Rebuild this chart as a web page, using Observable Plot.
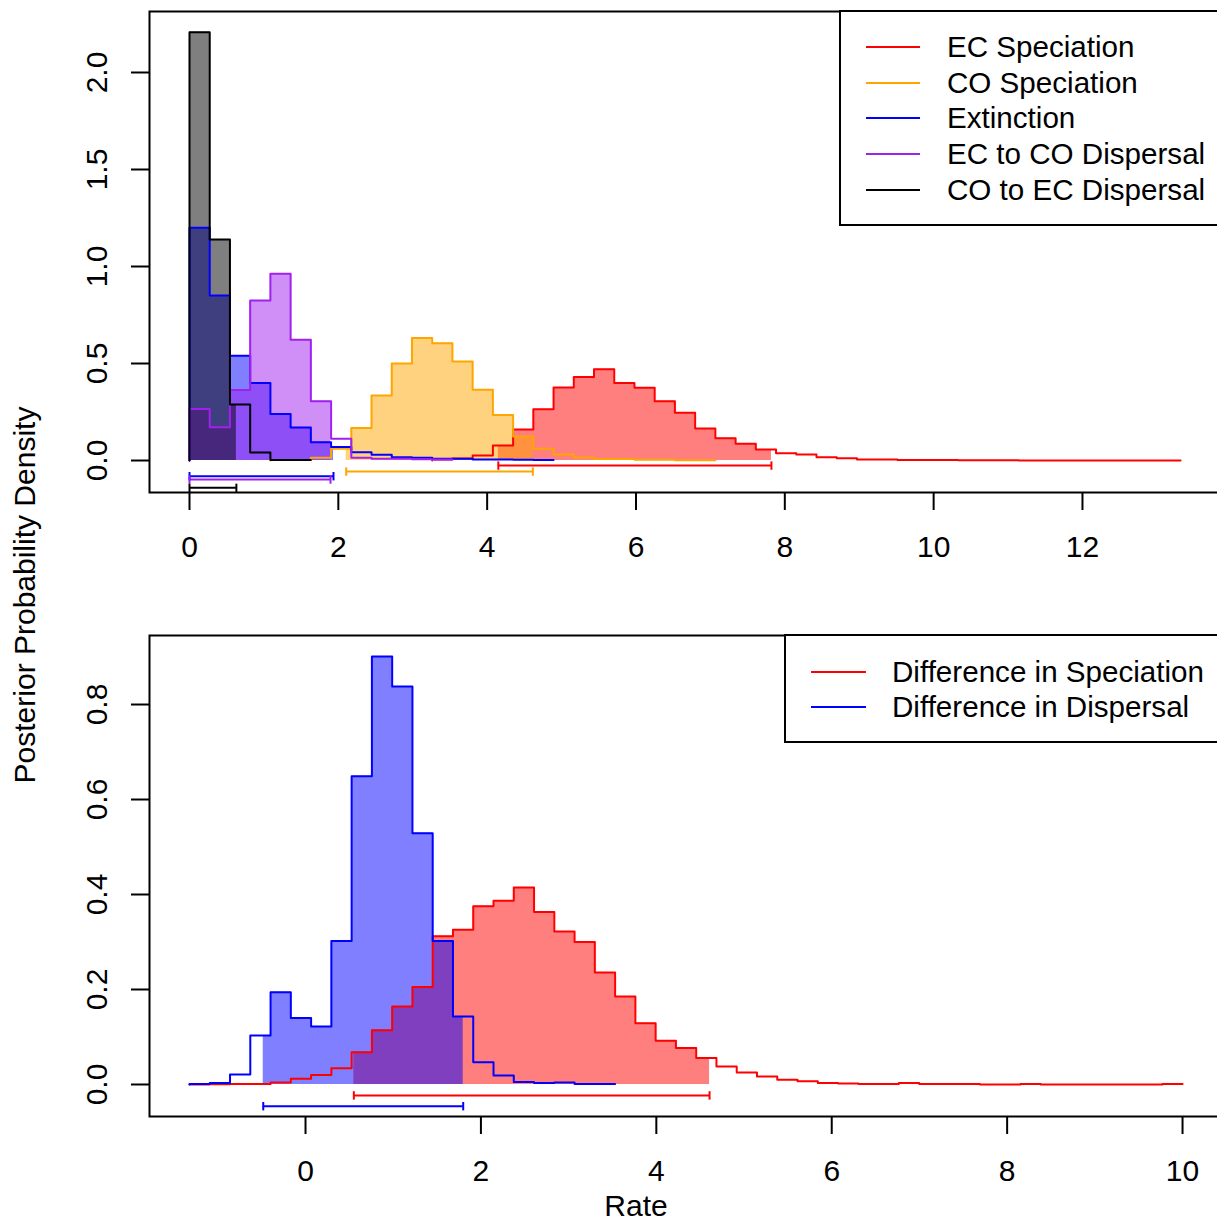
<!DOCTYPE html>
<html><head><meta charset="utf-8">
<script src="https://cdn.jsdelivr.net/npm/d3@7"></script>
<script src="https://cdn.jsdelivr.net/npm/@observablehq/plot@0.6"></script>
<style>
html,body{margin:0;padding:0;background:#fff;}
body{width:1217px;height:1222px;overflow:hidden;position:relative;font-family:"Liberation Sans",Arial,Helvetica,sans-serif;color:#000;}
.panel{position:absolute;left:0;width:1260px;}
.legend{position:absolute;background:#fff;border:2px solid #000;box-sizing:border-box;}
.swatch{position:absolute;height:2px;margin-top:-1px;}
.lab{position:absolute;font-size:29.6px;line-height:32px;white-space:nowrap;transform:translateY(-50%);}
.ylab{position:absolute;font-size:30px;white-space:nowrap;transform:translate(-50%,-50%) rotate(-90deg);}
.xlab{position:absolute;font-size:30px;white-space:nowrap;transform:translate(-50%,-50%);}
</style></head>
<body>
<div id="top" class="panel" style="top:0px"></div>
<div id="bottom" class="panel" style="top:600px"></div>
<script>
// ---------------- DATA ----------------
// Top panel: posterior histograms (common breaks starting at 0); null = empty bin not drawn
const topBinStart = 0;
const topBinWidth = 0.2718;
const topNames = ["EC Speciation", "CO Speciation", "Extinction", "EC to CO Dispersal", "CO to EC Dispersal"];
const topColors = ["#FF0000", "#FFA500", "#0000FF", "#A020F0", "#000000"];
const ecSpeciation = [null,null,null,null,null,null,null,null,null,null,null,null,
  0.005,0.01,0.026,0.077,0.16,0.264,0.376,0.43,0.47,0.40,0.375,0.306,0.246,0.165,0.115,0.086,0.057,
  0.037,0.031,0.017,0.012,0.005,0.005,0.003,0.003,0.003,0.001,0.001,0.001,
  0.0005,0.0005,0.0005,0.0005,0.0005,0.0005,0.0005,0.0005];
const coSpeciation = [null,null,null,null,0.003,0.003,0.014,0.06,0.167,0.335,0.50,0.632,0.605,
  0.51,0.365,0.235,0.124,0.06,0.031,0.015,0.008,0.008,0.004,0.004,0.001,0.001];
const extinction = [1.20,0.85,0.54,0.40,0.24,0.17,0.094,0.069,0.043,0.03,0.017,0.014,0.009,0.009,
  0.005,0.005,0.004,0.003];
const ecToCoDispersal = [0.266,0.172,0.364,0.825,0.962,0.622,0.306,0.112,0.014,0.009,0.009,0.006,0.005];
const coToEcDispersal = [2.208,1.139,0.289,0.041,0.003,0.002];
// 95% HPD intervals and the heights at which they are drawn
const topHpdLow  = [4.15, 2.106, 0, 0, 0];
const topHpdHigh = [7.82, 4.614, 1.935, 1.895, 0.63];
const topHpdY    = [-0.026, -0.057, -0.081, -0.098, -0.141];

// Bottom panel: differences
const botBinStart = -1.323;
const botBinWidth = 0.2311;
const botNames = ["Difference in Speciation", "Difference in Dispersal"];
const botColors = ["#FF0000", "#0000FF"];
const diffSpeciation = [0,0.0005,0.001,0.001,0.004,0.012,0.020,0.034,0.068,0.114,0.164,0.205,0.312,
  0.326,0.375,0.387,0.415,0.363,0.322,0.300,0.236,0.185,0.129,0.092,0.077,0.056,0.038,0.025,0.017,
  0.010,0.007,0.003,0.002,0.001,0.001,0.003,0.001,0.001,0.001,0,0,0.001,0,0,0,0,0,0,0.001];
const diffDispersal = [0.001,0.003,0.021,0.103,0.194,0.140,0.122,0.302,0.649,0.901,0.838,0.529,0.302,
  0.143,0.047,0.019,0.005,0.003,0.004,0.001,0.001];
const botHpdLow  = [0.551, -0.482];
const botHpdHigh = [4.607, 1.798];
const botHpdY    = [-0.023, -0.0457];

// Axis ticks
const topXTicks = [0, 2, 4, 6, 8, 10, 12];
const topYTicks = [0, 0.5, 1, 1.5, 2];
const botXTicks = [0, 2, 4, 6, 8, 10];
const botYTicks = [0, 0.2, 0.4, 0.6, 0.8];

// ---------------- HELPERS ----------------
function outline(start, width, dens) {
  const first = dens.findIndex(d => d != null);
  const pts = [{x: start + first * width, y: 0}];
  for (let i = first; i < dens.length; i++) pts.push({x: start + i * width, y: dens[i]});
  pts.push({x: start + dens.length * width, y: dens[dens.length - 1]});
  return pts;
}
function hpdArea(start, width, dens, lo, hi) {
  const val = x => dens[Math.min(dens.length - 1, Math.max(0, Math.floor((x - start) / width + 1e-9)))] ?? 0;
  const pts = [{x: lo, y: val(lo)}];
  for (let i = 0; i < dens.length; i++) {
    const b = start + i * width;
    if (b > lo && b < hi) pts.push({x: b, y: dens[i] ?? 0});
  }
  pts.push({x: hi, y: val(hi - 1e-6)});
  return pts;
}
const capSymbol = {draw(ctx, size) { const h = Math.sqrt(size / Math.PI); ctx.moveTo(0, -h); ctx.lineTo(0, h); }};
const font = "Liberation Sans, Arial, Helvetica, sans-serif";

function panel({series, colors, start, width, lo, hi, hy, xDomain, yDomain, xTicks, yTicks, yFmt, marginTop, marginBottom, height}) {
  const marks = [];
  series.forEach((d, i) => marks.push(Plot.areaY(hpdArea(start, width, d, lo[i], hi[i]),
    {x: "x", y: "y", curve: "step-after", fill: colors[i], fillOpacity: 0.5})));
  series.forEach((d, i) => marks.push(Plot.line(outline(start, width, d),
    {x: "x", y: "y", curve: "step-after", stroke: colors[i], strokeWidth: 2})));
  const bars = lo.map((l, i) => ({lo: l, hi: hi[i], y: hy[i], c: colors[i]}));
  marks.push(Plot.ruleY(bars, {y: "y", x1: "lo", x2: "hi", stroke: "c", strokeWidth: 2}));
  const caps = bars.flatMap(b => [{x: b.lo, y: b.y, c: b.c}, {x: b.hi, y: b.y, c: b.c}]);
  marks.push(Plot.dot(caps, {x: "x", y: "y", r: 4.2, symbol: capSymbol, stroke: "c", fill: "none", strokeWidth: 2}));
  marks.push(Plot.frame({stroke: "#000", strokeWidth: 2}));
  marks.push(Plot.axisX({ticks: xTicks, tickSize: 18, tickPadding: 25, tickFormat: d => String(d), label: null, strokeWidth: 2, fontSize: 30}));
  marks.push(Plot.axisY({ticks: yTicks, tickSize: 18, tickFormat: () => "", label: null, strokeWidth: 2}));
  marks.push(Plot.text(yTicks, {y: d => d, text: yFmt, frameAnchor: "left", dx: -52, rotate: -90,
    textAnchor: "middle", lineAnchor: "middle", fontSize: 30}));
  return Plot.plot({
    width: 1260, height, marginTop, marginBottom, marginLeft: 149, marginRight: 29.2,
    x: {domain: xDomain, axis: null},
    y: {domain: yDomain, axis: null},
    style: {fontFamily: font, fontSize: "30px", background: "transparent", maxWidth: "none", overflow: "visible", color: "#000"},
    marks
  });
}

document.getElementById("top").appendChild(panel({
  series: [ecSpeciation, coSpeciation, extinction, ecToCoDispersal, coToEcDispersal],
  colors: topColors, start: topBinStart, width: topBinWidth,
  lo: topHpdLow, hi: topHpdHigh, hy: topHpdY,
  xDomain: [-0.5375, 14], yDomain: [-0.1649, 2.3144],
  xTicks: topXTicks, yTicks: topYTicks, yFmt: d => d.toFixed(1),
  marginTop: 11, marginBottom: 88, height: 580
}));
document.getElementById("bottom").appendChild(panel({
  series: [diffSpeciation, diffDispersal],
  colors: botColors, start: botBinStart, width: botBinWidth,
  lo: botHpdLow, hi: botHpdHigh, hy: botHpdY,
  xDomain: [-1.779, 10.556], yDomain: [-0.0674, 0.9453],
  xTicks: botXTicks, yTicks: botYTicks, yFmt: d => d.toFixed(1),
  marginTop: 35, marginBottom: 106, height: 622
}));

// ---------------- LEGENDS & LABELS ----------------
function legend(names, colors, box, rowYs, swX1, swX2, textX) {
  const b = document.createElement("div");
  b.className = "legend";
  Object.assign(b.style, {left: box.x + "px", top: box.y + "px", width: box.w + "px", height: box.h + "px"});
  document.body.appendChild(b);
  names.forEach((n, i) => {
    const s = document.createElement("div");
    s.className = "swatch";
    Object.assign(s.style, {left: swX1 + "px", width: (swX2 - swX1) + "px", top: rowYs[i] + "px", background: colors[i]});
    document.body.appendChild(s);
    const t = document.createElement("div");
    t.className = "lab";
    t.textContent = n;
    Object.assign(t.style, {left: textX + "px", top: rowYs[i] + "px"});
    document.body.appendChild(t);
  });
}
legend(topNames, topColors, {x: 839, y: 10, w: 420, h: 216}, [47, 83, 118, 154, 190], 866, 920, 947);
legend(botNames, botColors, {x: 784, y: 634, w: 470, h: 109}, [672, 707], 811, 866, 892);

const yl = document.createElement("div");
yl.className = "ylab"; yl.textContent = "Posterior Probability Density";
Object.assign(yl.style, {left: "25px", top: "595px"});
document.body.appendChild(yl);
const xl = document.createElement("div");
xl.className = "xlab"; xl.textContent = "Rate";
Object.assign(xl.style, {left: "636px", top: "1206px"});
document.body.appendChild(xl);
</script>
</body></html>
